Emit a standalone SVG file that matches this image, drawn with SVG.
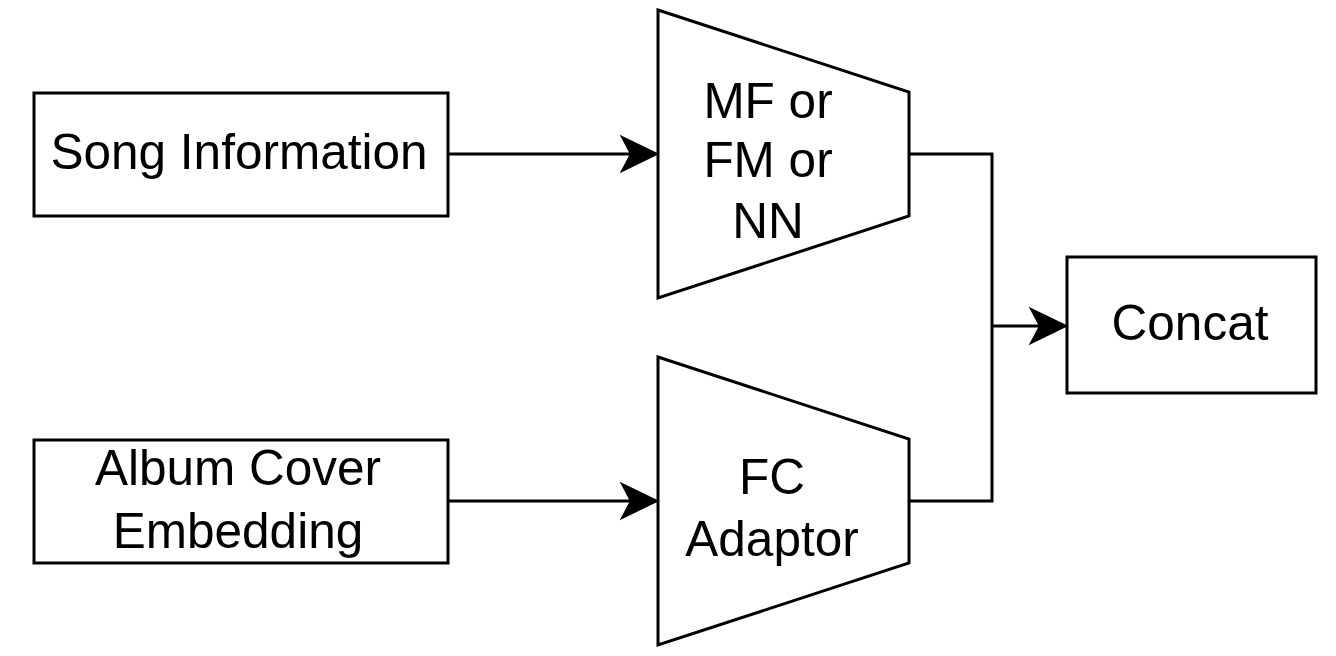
<svg xmlns="http://www.w3.org/2000/svg" width="1336" height="656" viewBox="0 0 1336 656">
<style>
.box{fill:#fff;stroke:#000;stroke-width:3}
.lbl{font-family:"Liberation Sans",Arial,sans-serif;font-size:49.5px;fill:#000;text-anchor:middle}
.edge{fill:none;stroke:#000;stroke-width:3}
.head{fill:#000;stroke:#000;stroke-width:2}
</style>
<rect width="1336" height="656" fill="#fff"/>
<g id="connectors">
<path class="edge" d="M448,154 H632"/>
<path class="head" d="M657,154 L622,137 L631,154 L622,171 Z"/>
<path class="edge" d="M448,501 H632"/>
<path class="head" d="M657,501 L622,484 L631,501 L622,518 Z"/>
<path class="edge" d="M909,154 H992 V501 H909"/>
<path class="edge" d="M992,326 H1041"/>
<path class="head" d="M1066,326 L1031,309 L1040,326 L1031,343 Z"/>
</g>
<g id="song">
<rect class="box" x="34" y="93" width="414" height="123"/>
<text class="lbl" x="239" y="169">Song Information</text>
</g>
<g id="album">
<rect class="box" x="34" y="440" width="414" height="123"/>
<text class="lbl" x="238" y="485">Album Cover</text>
<text class="lbl" x="238" y="548">Embedding</text>
</g>
<g id="mf">
<polygon class="box" points="658,10 909,92 909,216 658,298"/>
<text class="lbl" x="768" y="118">MF or</text>
<text class="lbl" x="768" y="177">FM or</text>
<text class="lbl" x="768" y="238">NN</text>
</g>
<g id="fc">
<polygon class="box" points="658,357 909,439 909,563 658,645"/>
<text class="lbl" x="772" y="494">FC</text>
<text class="lbl" x="772" y="556">Adaptor</text>
</g>
<g id="concat">
<rect class="box" x="1067" y="257" width="249" height="136"/>
<text class="lbl" x="1190" y="340">Concat</text>
</g>
</svg>
